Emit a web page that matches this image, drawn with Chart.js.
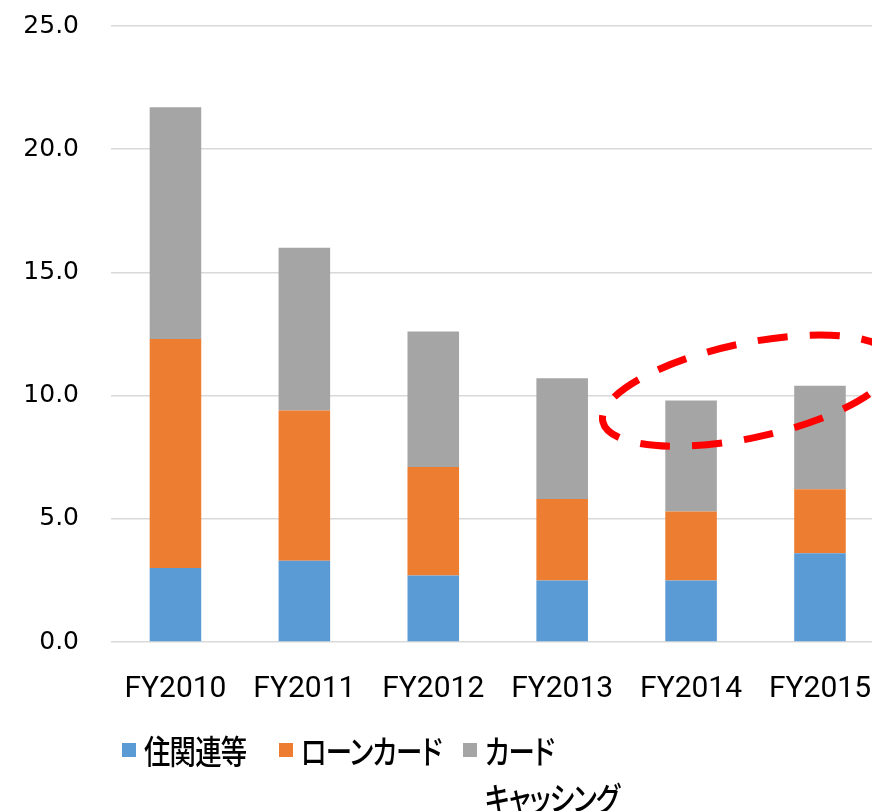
<!DOCTYPE html>
<html>
<head>
<meta charset="utf-8">
<script src="https://cdn.jsdelivr.net/npm/chart.js@4/dist/chart.umd.min.js"></script>
<style>
  html, body { margin: 0; padding: 0; background: #fff; overflow: hidden; }
  #wrap { position: relative; width: 892px; height: 811px; overflow: hidden; }
  #chart { position: absolute; left: 0; top: -21px; }
  #legend { position: absolute; left: 0; top: 727px; width: 872px; font-family: "Noto Sans CJK JP", sans-serif;
            font-size: 33px; line-height: 47px; color: #000; font-weight: 500;
            font-feature-settings: "palt"; letter-spacing: -1px; }
  .item { position: absolute; top: 0; white-space: nowrap; }
  .box { position: absolute; width: 14px; height: 14px; top: 16px; }
  .txt { position: absolute; transform: scaleX(0.8); transform-origin: left top; }
</style>
</head>
<body>
<div id="wrap">
  <canvas id="chart" width="892" height="752"></canvas>
  <div id="legend"></div>
</div>
<script>
const years = ['FY2010', 'FY2011', 'FY2012', 'FY2013', 'FY2014', 'FY2015'];
const housing = [3.0, 3.3, 2.7, 2.5, 2.5, 3.6];
const loanCard = [9.3, 6.1, 4.4, 3.3, 2.8, 2.6];
const cashing = [9.4, 6.6, 5.5, 4.9, 4.5, 4.2];
const seriesNames = ['住関連等', 'ローンカード', ['カード', 'キャッシング']];
const seriesColors = ['#5b9bd5', '#ed7d31', '#a5a5a5'];
const yTicks = [0, 5, 10, 15, 20, 25];

// dashed ring around the last two years: centre in (category index, value), radii in categories / value units
const ring = { x: 4.44, y: 10.2, rx: 1.15, ry: 1.92, tilt: -12 };

const ringPlugin = {
  id: 'ring',
  afterDraw(chart) {
    const { ctx, scales: { x, y } } = chart;
    const cx = x.getPixelForValue(ring.x);
    const cy = y.getPixelForValue(ring.y);
    const step = x.getPixelForValue(1) - x.getPixelForValue(0);
    const rx = ring.rx * step;
    const ry = Math.abs(y.getPixelForValue(ring.ry) - y.getPixelForValue(0));
    ctx.save();
    ctx.strokeStyle = '#ff0000';
    ctx.lineWidth = 7;
    ctx.setLineDash([30, 22]);
    ctx.lineDashOffset = 8;
    ctx.beginPath();
    ctx.ellipse(cx, cy, rx, ry, ring.tilt * Math.PI / 180, 0, Math.PI * 2);
    ctx.stroke();
    ctx.restore();
  }
};

const chart = new Chart(document.getElementById('chart'), {
  type: 'bar',
  data: {
    labels: years,
    datasets: [
      { label: seriesNames[0], data: housing, backgroundColor: seriesColors[0] },
      { label: seriesNames[1], data: loanCard, backgroundColor: seriesColors[1] },
      { label: seriesNames[2].join(''), data: cashing, backgroundColor: seriesColors[2] }
    ]
  },
  options: {
    responsive: false,
    animation: false,
    layout: { padding: { top: 10, right: 0, bottom: 3, left: 0 } },
    datasets: { bar: { categoryPercentage: 1, barPercentage: 0.4 } },
    plugins: { legend: { display: false }, tooltip: { enabled: false } },
    scales: {
      x: {
        stacked: true,
        grid: { display: false },
        border: { display: false },
        ticks: { color: '#000', padding: 21, font: { family: 'Roboto', size: 30 } }
      },
      y: {
        stacked: true,
        min: 0,
        max: 25,
        afterFit(scale) { scale.width = 111; },
        afterBuildTicks(scale) { scale.ticks = yTicks.map(v => ({ value: v })); },
        grid: { color: '#d9d9d9', lineWidth: 1.5, drawTicks: false },
        border: { display: false },
        ticks: {
          color: '#000',
          padding: 32,
          font: { family: 'DejaVu Sans', size: 25 },
          callback: v => v.toFixed(1)
        }
      }
    }
  },
  plugins: [ringPlugin]
});

// legend under the chart
const legendX = [122, 279, 463];
const legend = document.getElementById('legend');
seriesNames.forEach((name, i) => {
  const item = document.createElement('div');
  item.className = 'item';
  item.style.left = legendX[i] + 'px';
  const box = document.createElement('div');
  box.className = 'box';
  box.style.background = seriesColors[i];
  const txt = document.createElement('div');
  txt.className = 'txt';
  txt.style.left = '22px';
  txt.innerHTML = [].concat(name).join('<br>');
  item.appendChild(box);
  item.appendChild(txt);
  legend.appendChild(item);
});
</script>
</body>
</html>
